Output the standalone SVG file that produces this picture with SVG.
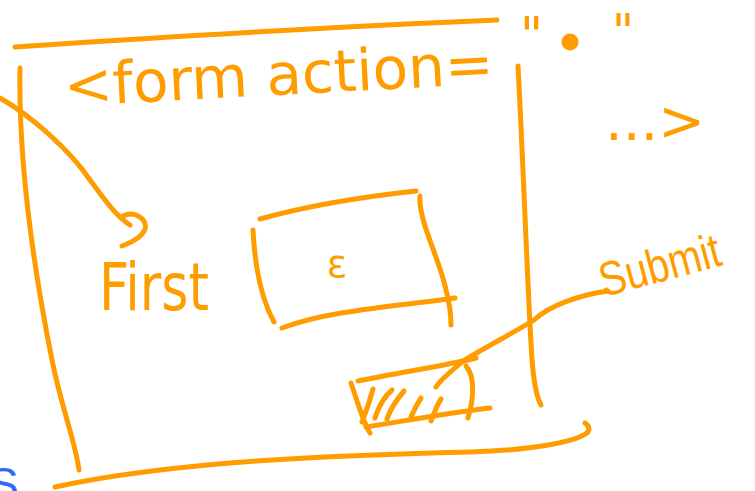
<svg xmlns="http://www.w3.org/2000/svg" width="755" height="491" viewBox="0 0 755 491">
<style>
.s{fill:none;stroke:#FF9C00;stroke-width:5;stroke-linecap:round;stroke-linejoin:round}
.t{fill:#FF9C00;font-family:"DejaVu Sans","Liberation Sans",sans-serif}
</style>
<rect width="755" height="491" fill="#fff"/>
<g id="form-box">
<path class="s" d="M15,47 C150,38 350,26 497,20"/>
<path class="s" d="M20,68 C18,180 40,300 52,360 C62,410 75,440 79,470"/>
<path class="s" d="M518,66 C524,180 528,300 532,360 C534,385 537,398 541,405"/>
<path class="s" d="M55,487 C180,460 350,455 470,452 C540,450 580,440 588,432 C590,428 588,425 585,423"/>
<text class="t" x="65" y="106" font-size="58" textLength="430" lengthAdjust="spacingAndGlyphs" transform="rotate(-3 65 106)">&lt;form action=</text>
<text class="t" x="520" y="52" font-size="50">"</text>
<circle cx="570" cy="42" r="8.5" fill="#FF9C00"/>
<text class="t" x="612" y="48" font-size="48">"</text>
<text class="t" x="605" y="140" font-size="56" textLength="100" lengthAdjust="spacingAndGlyphs">...&gt;</text>
</g>
<g id="input-field">
<path class="s" d="M260,219 C310,205 370,196 416,191"/>
<path class="s" d="M253,230 C255,270 262,300 274,322"/>
<path class="s" d="M282,328 C330,310 400,306 455,298"/>
<path class="s" d="M420,196 C418,220 440,260 446,290 C450,305 451,315 451,325"/>
<text class="t" x="337" y="277" font-size="38" text-anchor="middle">ε</text>
</g>
<g id="first-label">
<text class="t" x="99" y="310" font-size="66" textLength="110" lengthAdjust="spacingAndGlyphs">First</text>
</g>
<g id="submit-button">
<path class="s" d="M358,381 C400,372 445,366 476,358"/>
<path class="s" d="M351,383 C357,400 362,420 370,433"/>
<path class="s" d="M366,427 C410,420 455,412 490,408"/>
<path class="s" d="M466,366 C474,375 475,395 468,418"/>
<path class="s" d="M373,389 C370,400 366,412 362,422"/>
<path class="s" d="M375,418 C379,405 385,396 392,390"/>
<path class="s" d="M387,419 C391,407 398,398 404,391"/>
<path class="s" d="M411,417 C414,410 417,404 421,398"/>
<path class="s" d="M431,421 C434,413 437,405 441,399"/>
</g>
<g id="submit-label">
<text x="604" y="297" font-size="48" fill="#FF9C00" font-family="Liberation Sans,sans-serif" textLength="124" lengthAdjust="spacingAndGlyphs" transform="rotate(-15 604 297)">Submit</text>
</g>
<g id="connectors">
<path class="s" d="M0,98 C30,115 70,150 90,180 C105,200 115,215 130,225"/>
<path class="s" d="M123,216 C135,210 148,220 145,229 C142,238 130,243 122,246"/>
<path class="s" d="M608,291 C580,295 550,305 534,320 C510,335 480,350 462,362 C450,372 440,380 436,387"/>
</g>
<text x="-12" y="500" font-size="46" fill="#3366FF" font-family="Liberation Sans,sans-serif">S</text>
</svg>
